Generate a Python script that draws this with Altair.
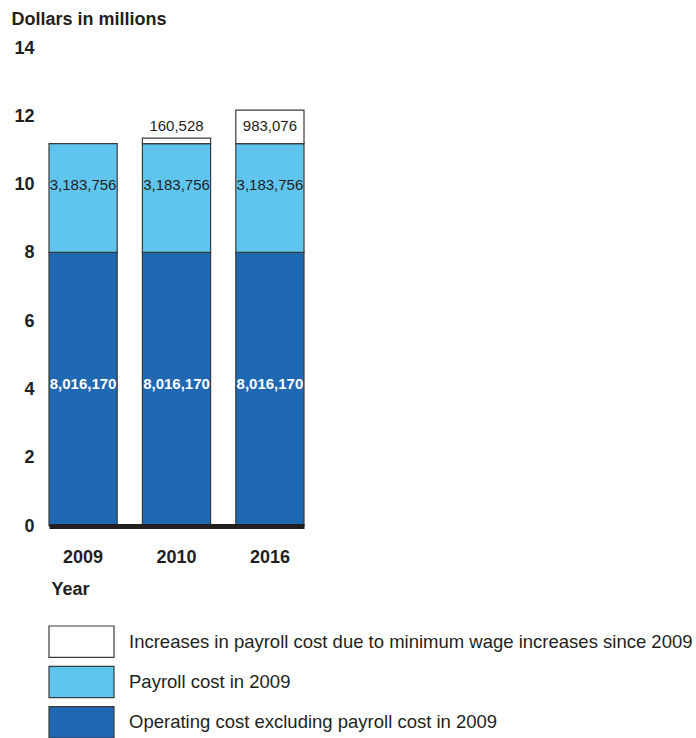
import altair as alt
import pandas as pd

years = ["2009", "2010", "2016"]
operating_cost = [8016170, 8016170, 8016170]
payroll_2009 = [3183756, 3183756, 3183756]
wage_increase = [0, 160528, 983076]

categories = [
    "Increases in payroll cost due to minimum wage increases since 2009",
    "Payroll cost in 2009",
    "Operating cost excluding payroll cost in 2009",
]
colors = ["#ffffff", "#60c5ee", "#1f69b3"]
y_ticks = [0, 2, 4, 6, 8, 10, 12, 14]

FONT = "Liberation Sans"
INK = "#231f20"
Y_TITLE = "Dollars in millions"

rows = []
max_inc = max(wage_increase)
for i, yr in enumerate(years):
    op, pay, inc = operating_cost[i], payroll_2009[i], wage_increase[i]
    segs = [
        (categories[2], "op", op, 0, op / 2),
        (categories[1], "pay", pay, op, op + pay / 2),
        (categories[0], "inc", inc, op + pay, op + pay + max_inc / 2),
    ]
    for cat, key, val, base, ly in segs:
        if val <= 0:
            continue
        rows.append(dict(year=yr, cat=cat, key=key, start=base / 1e6,
                         end=(base + val) / 1e6, label=f"{val:,}", label_y=ly / 1e6))
df = pd.DataFrame(rows)

color_scale = alt.Scale(domain=categories, range=colors)
y_scale = alt.Scale(domain=[0, 14], nice=False)
x_scale = alt.Scale(paddingInner=0.27, paddingOuter=0)

xs = alt.X("year:N", title="Year", sort=years, scale=x_scale,
           axis=alt.Axis(labelAngle=0, labelFontSize=18, labelFontWeight="bold",
                         labelColor=INK, labelBaseline="alphabetic", labelPadding=36,
                         ticks=False, tickSize=0, domain=True, domainWidth=5,
                         domainColor=INK, zindex=1,
                         titleFontSize=18, titleFontWeight="bold", titleColor=INK,
                         titleAlign="left", titleAnchor="start", titleBaseline="alphabetic",
                         titleX=2, titleY=68))
ys = alt.Y("start:Q", title=Y_TITLE, scale=y_scale,
           axis=alt.Axis(values=y_ticks, grid=False, domain=False, ticks=False, tickSize=0,
                         labelFontSize=18, labelFontWeight="bold", labelColor=INK,
                         labelPadding=15,
                         titleFontSize=18, titleFontWeight="bold", titleColor=INK,
                         titleAngle=0, titleAlign="left", titleBaseline="alphabetic",
                         titleX=-38, titleY=-24))

base = alt.Chart(df)
bars = base.mark_bar(stroke="#3a3a3a", strokeWidth=1.2).encode(
    x=xs, y=ys, y2="end:Q",
    color=alt.Color("cat:N", scale=color_scale, legend=None),
)

def labels(key, dy, color, weight):
    return base.transform_filter(alt.datum.key == key).mark_text(
        dy=dy, fontSize=15, color=color, fontWeight=weight, font=FONT
    ).encode(
        x=alt.X("year:N", sort=years, title="Year"),
        y=alt.Y("label_y:Q", title=Y_TITLE),
        text="label:N",
    )

main = alt.layer(
    bars,
    labels("op", -5, "#ffffff", "bold"),
    labels("pay", -13, INK, "normal"),
    labels("inc", -1, INK, "normal"),
).properties(width=255, height=478)

leg_df = pd.DataFrame({"cat": categories})
leg_y = alt.Y("cat:N", sort=categories, axis=None,
              scale=alt.Scale(paddingInner=0.22, paddingOuter=0))
leg_rect = alt.Chart(leg_df).mark_rect(stroke="#3a3a3a", strokeWidth=1.2).encode(
    y=leg_y, x=alt.value(0), x2=alt.value(65),
    color=alt.Color("cat:N", scale=color_scale, legend=None),
)
leg_text = alt.Chart(leg_df).mark_text(
    align="left", baseline="middle", fontSize=18.5, color=INK, font=FONT
).encode(y=leg_y, x=alt.value(80), text="cat:N")
legend = alt.layer(leg_rect, leg_text).properties(width=560, height=112)

chart = alt.vconcat(main, legend, spacing=27).properties(
    padding={"left": 11, "top": 10, "right": 0, "bottom": 0}
).configure(font=FONT).configure_view(strokeWidth=0, stroke="transparent")

chart.save("out.html", embed_options={"renderer": "svg", "actions": False})
